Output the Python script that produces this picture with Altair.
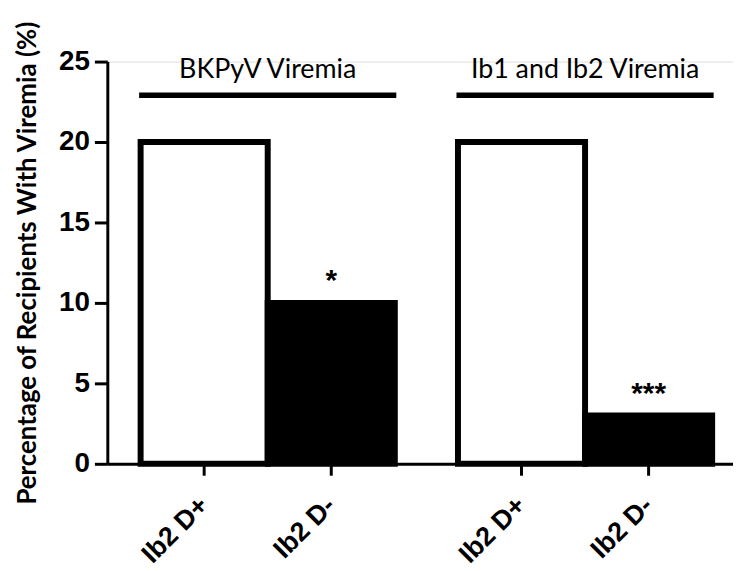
import altair as alt
import pandas as pd

# ---- data ----
groups = ["BKPyV Viremia", "BKPyV Viremia", "Ib1 and Ib2 Viremia", "Ib1 and Ib2 Viremia"]
conditions = ["Ib2 D+", "Ib2 D-", "Ib2 D+", "Ib2 D-"]
values = [20, 10, 20, 3]
significance = ["", "*", "", "***"]
header_groups = ["BKPyV Viremia", "Ib1 and Ib2 Viremia"]
y_ticks = [0, 5, 10, 15, 20, 25]

bars_df = pd.DataFrame({"group": groups, "cond": conditions, "value": values, "sig": significance})
head_df = pd.DataFrame({"group": header_groups})

W, H = 630, 405

x_scale = alt.Scale(domain=header_groups, paddingInner=0.199, paddingOuter=0.0853, align=0.615)
off_scale = alt.Scale(domain=["Ib2 D+", "Ib2 D-"], paddingInner=0, paddingOuter=0)
y_scale = alt.Scale(domain=[0, 25], nice=False)

X = alt.X("group:N", scale=x_scale,
          axis=alt.Axis(title=None, labels=False, ticks=False, domain=True,
                        domainColor="black", domainWidth=3))
XO = alt.XOffset("cond:N", scale=off_scale)

base = alt.Chart(bars_df)

bars = base.mark_bar(stroke="black", strokeWidth=6).encode(
    x=X, xOffset=XO,
    y=alt.Y("value:Q", scale=y_scale,
            axis=alt.Axis(values=y_ticks, title="Percentage of Recipients With Viremia (%)",
                          grid=False, domainColor="black", domainWidth=3,
                          tickColor="black", tickWidth=3, tickSize=13,
                          labelFont="Liberation Sans", labelFontWeight="bold",
                          labelFontSize=28, labelColor="black", labelPadding=5,
                          titleFont="Lato", titleFontWeight="bold", titleFontSize=26,
                          titleColor="black", titlePadding=18)),
    fill=alt.Fill("cond:N", scale=alt.Scale(domain=["Ib2 D+", "Ib2 D-"], range=["white", "black"]),
                  legend=None),
)

stars = base.mark_text(font="Liberation Sans", fontWeight="bold", fontSize=30,
                       baseline="alphabetic", dy=-13, color="black").encode(
    x=X, xOffset=XO, y=alt.Y("value:Q", scale=y_scale), text="sig:N")

xticks = base.mark_rule(color="black", strokeWidth=3).encode(
    x=X, xOffset=XO, y=alt.value(H), y2=alt.value(H + 12))

xlabels = base.mark_text(font="Liberation Sans", fontWeight="bold", fontSize=27,
                         angle=315, align="right", baseline="middle", color="black").encode(
    x=X, xOffset=XO, y=alt.value(H + 38), text="cond:N")

head_lines = alt.Chart(head_df).mark_bar(color="black", stroke="black", strokeWidth=3).encode(
    x=X, y=alt.Y(datum=22.83, scale=y_scale), y2=alt.Y2(datum=22.98))

head_text = alt.Chart(head_df).mark_text(font="Lato", fontSize=27, baseline="alphabetic",
                                         color="black").encode(
    x=X, y=alt.Y(datum=23.95, scale=y_scale), text="group:N")

chart = alt.layer(bars, head_lines, head_text, stars, xticks, xlabels).properties(
    width=W, height=H,
    autosize=alt.AutoSizeParams(type="none"),
    padding={"left": 100, "top": 52, "right": 0, "bottom": 106},
).configure_view(stroke=None).configure(background="white")

chart.save("out.html", embed_options={"renderer": "svg", "actions": False})
